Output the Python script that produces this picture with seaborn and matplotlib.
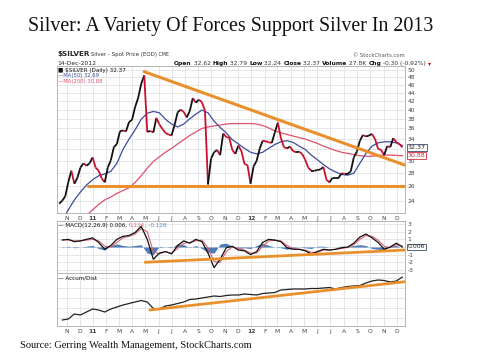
import numpy as np
import pandas as pd
import matplotlib
matplotlib.use('Agg')
import matplotlib.pyplot as plt
import matplotlib.ticker as mticker
import seaborn as sns

# ---- data --------------------------------------------------------------
# weekly closes (Fridays) from 15-Oct-2010 to 14-Dec-2012
close = [23.6, 24.0, 24.6, 26.6, 28.4, 26.4, 27.3, 28.9, 29.6, 29.2, 29.6, 30.6,
         28.9, 28.4, 27.2, 26.6, 28.9, 30.1, 32.4, 33.0, 35.4, 35.6, 35.4, 37.3,
         37.8, 40.6, 42.7, 46.2, 48.5, 35.3, 35.5, 35.2, 38.2, 36.8, 35.9, 35.1,
         34.8, 34.6, 36.7, 39.4, 40.0, 39.5, 38.3, 39.7, 42.7, 41.6, 42.3, 41.7,
         39.8, 26.3, 30.4, 31.5, 31.9, 31.0, 35.0, 34.3, 34.2, 31.9, 31.2, 32.7,
         31.7, 29.5, 29.3, 26.4,
         29.1, 30.0, 32.1, 33.6, 33.5, 33.3, 33.2, 35.2, 37.2, 34.1, 32.4, 32.2,
         32.5, 31.7, 31.5, 31.6, 31.2, 30.2, 28.9, 28.4, 28.4, 28.5, 28.6, 29.0,
         27.0, 26.6, 27.3, 27.3, 27.3, 28.0, 27.9, 27.9, 28.3, 30.6, 31.6, 33.6,
         34.7, 34.4, 34.6, 34.9, 33.9, 32.1, 31.9, 31.0, 32.6, 32.4, 34.1, 33.3,
         33.0, 32.37]

# every other Friday from 22-Oct-2010 to 14-Dec-2012
ma50 = [21.5, 22.8, 24.1, 25.2, 26.2, 27.0, 27.6, 27.9, 28.3, 29.6, 32.0, 33.9,
        35.7, 37.9, 39.2, 39.6, 39.3, 37.9, 36.9, 36.3, 36.9, 38.0, 39.0, 39.9,
        39.3, 37.5, 36.2, 35.1, 33.8, 33.0, 32.2, 31.5, 31.2, 31.5, 32.2, 32.9,
        33.4, 33.6, 33.3, 32.6, 32.0, 31.0, 30.2, 29.4, 28.7, 28.2, 27.8, 27.7,
        28.0, 29.6, 31.3, 32.6, 33.2, 33.4, 33.4, 33.2, 32.69]
ma200 = [20.0, 20.4, 20.9, 21.5, 22.1, 22.8, 23.5, 24.1, 24.5, 25.0, 25.4, 25.8,
         26.6, 27.6, 28.8, 29.9, 30.7, 31.5, 32.2, 33.0, 33.8, 34.6, 35.3, 36.0,
         36.3, 36.5, 36.7, 36.9, 37.0, 37.0, 37.0, 37.0, 36.9, 36.6, 36.1, 35.5,
         35.1, 34.8, 34.5, 34.2, 33.9, 33.5, 33.1, 32.6, 32.2, 31.8, 31.5, 31.3,
         31.1, 30.9, 30.8, 30.8, 30.9, 31.0, 31.0, 30.95, 30.88]
macd = [0.9, 1.0, 0.7, 0.8, 1.0, 1.2, 0.6, -0.3, 0.2, 1.0, 1.4, 1.5,
        1.9, 2.7, 1.0, -1.6, -0.8, -0.6, -0.9, 0.2, 0.8, 0.5, 1.0, 0.7,
        -0.8, -2.7, -1.6, -0.1, 0.1, -0.4, -0.5, -1.0, -0.6, 0.6, 1.0, 0.9,
        0.7, -0.1, -0.3, -0.3, -0.5, -0.9, -0.6, -0.3, -0.4, -0.3, -0.1, 0.0,
        0.5, 1.3, 1.7, 1.2, 0.6, -0.3, 0.0, 0.5, 0.006]
signal = [1.0, 0.9, 0.8, 0.8, 0.9, 1.0, 0.8, 0.1, 0.0, 0.6, 1.2, 1.4,
          1.7, 2.4, 2.0, -0.6, -0.9, -0.6, -0.8, -0.2, 0.5, 0.6, 0.8, 0.9,
          -0.1, -1.9, -2.0, -0.6, 0.0, -0.2, -0.4, -0.8, -0.8, 0.1, 0.8, 0.9,
          0.8, 0.2, -0.2, -0.3, -0.4, -0.7, -0.7, -0.4, -0.4, -0.3, -0.2, -0.05,
          0.3, 1.0, 1.5, 1.4, 0.9, 0.1, -0.1, 0.3, 0.134]
hist = [-0.1, 0.1, -0.1, 0.0, 0.1, 0.2, -0.2, -0.4, 0.2, 0.4, 0.2, 0.1,
        0.2, 0.3, -0.8, -1.0, 0.1, 0.0, -0.1, 0.4, 0.3, -0.1, 0.2, -0.2,
        -0.7, -0.8, 0.4, 0.5, 0.1, -0.2, -0.1, -0.2, 0.2, 0.5, 0.2, 0.0,
        -0.1, -0.3, -0.1, 0.0, -0.1, -0.2, 0.1, 0.1, 0.0, 0.0, 0.1, 0.05,
        0.2, 0.3, 0.2, -0.2, -0.3, -0.4, 0.1, 0.2, -0.128]
adl = [6, 7, 12, 11, 14, 17, 16, 14, 17, 19, 21, 22.5,
       24, 25.5, 24, 17.5, 17, 20, 21, 22.5, 24, 26.5, 27, 28,
       29, 30, 29.5, 30.5, 31, 31, 32, 31.5, 31, 32.5, 33, 33.5,
       36, 36.5, 37, 37, 37, 37.5, 37.5, 38, 38.5, 37, 38.5, 39.5,
       40, 40.5, 43, 45, 46, 45.5, 44, 45, 49]

# hand-drawn trendlines (start, end)
res_dates, res_vals = ['2011-04-29', '2012-12-20'], [49.5, 29.3]
sup_dates, sup_vals = ['2010-12-20', '2012-12-20'], [26.1, 26.1]
macd_tl_dates, macd_tl_vals = ['2011-05-01', '2012-12-20'], [-2.0, -0.4]
adl_tl_dates, adl_tl_vals = ['2011-05-12', '2012-12-20'], [16, 44.3]

month_labels = ['N', 'D', '11', 'F', 'M', 'A', 'M', 'J', 'J', 'A', 'S', 'O',
                'N', 'D', '12', 'F', 'M', 'A', 'M', 'J', 'J', 'A', 'S', 'O', 'N', 'D']
price_ticks = [24, 26, 28, 30, 34, 36, 38, 40, 42, 44, 46, 48, 50]
price_grid = [24, 26, 28, 30, 32, 34, 36, 38, 40, 42, 44, 46, 48, 50]

week_dates = pd.date_range('2010-10-15', periods=len(close), freq='7D')
ind_dates = pd.date_range('2010-10-22', periods=len(macd), freq='14D')
month_starts = pd.date_range('2010-11-01', periods=len(month_labels), freq='MS')

# ---- style ---------------------------------------------------------------
sns.set_style('white')
plt.rcParams['font.family'] = ['DejaVu Sans']

ORANGE = '#e8912c'
GRID = '#e2e2e2'
EDGE = '#aaaaaa'
BLUE = '#3c4c9e'
RED = '#e0506a'

fig = plt.figure(figsize=(4.8, 3.6), dpi=100)


def box(l, t, r, b):
    return [l / 480, 1 - b / 360, (r - l) / 480, (b - t) / 360]


def ftext(x, y, s, **kw):
    kw.setdefault('va', 'center')
    return fig.text(x / 480, 1 - y / 360, s, **kw)


def after(ax, prev, s, **kw):
    # place a text piece right after the previous one
    return ax.annotate(s, xy=(1, 0), xycoords=prev, va='bottom',
                       annotation_clip=False, **kw)


ax1 = fig.add_axes(box(57, 66, 405, 213))
ax2 = fig.add_axes(box(57, 221, 405, 273))
ax3 = fig.add_axes(box(57, 273, 405, 326))
xlim = (pd.Timestamp('2010-10-10'), pd.Timestamp('2012-12-20'))

for ax in (ax1, ax2, ax3):
    ax.set_xlim(*xlim)
    ax.set_xticks(month_starts)
    ax.set_xticklabels(month_labels)
    ax.grid(True, color=GRID, lw=0.6)
    ax.set_axisbelow(True)
    ax.yaxis.tick_right()
    ax.tick_params(length=0, labelsize=4.3, colors='#444444', pad=2)
    for sp in ax.spines.values():
        sp.set_color(EDGE)
        sp.set_linewidth(0.6)
    for lab in ax.get_xticklabels():
        if lab.get_text() in ('11', '12'):
            lab.set_fontweight('bold')
ax2.tick_params(labelbottom=False)

# ---- price panel -----------------------------------------------------------
ax1.set_yscale('log')
ax1.set_ylim(22.4, 51.1)
ax1.set_yticks(price_grid)
ax1.yaxis.set_major_formatter(mticker.FuncFormatter(
    lambda v, p: '' if round(v) not in price_ticks else f'{v:.0f}'))
ax1.yaxis.set_minor_locator(mticker.NullLocator())

sns.lineplot(x=ind_dates, y=ma200, ax=ax1, color=RED, lw=0.9)
sns.lineplot(x=ind_dates, y=ma50, ax=ax1, color=BLUE, lw=0.9)
for i in range(len(close) - 1):
    c = '#111111' if close[i + 1] >= close[i] else '#c8102e'
    ax1.plot(week_dates[i:i + 2], close[i:i + 2], color=c, lw=1.3,
             solid_capstyle='butt')
ax1.plot(pd.to_datetime(res_dates), res_vals, color=ORANGE, lw=2.2)
ax1.plot(pd.to_datetime(sup_dates), sup_vals, color=ORANGE, lw=2.2)
ax1.set_xlabel('')

ax1.annotate('32.37', xy=(1.008, 32.37), xycoords=('axes fraction', 'data'),
             va='center', ha='left', fontsize=4.5, color='#222222',
             bbox=dict(boxstyle='square,pad=0.15', fc='white', ec='#3a4a70', lw=0.6),
             annotation_clip=False)
ax1.annotate('30.88', xy=(1.008, 30.88), xycoords=('axes fraction', 'data'),
             va='center', ha='left', fontsize=4.5, color='#d03040',
             bbox=dict(boxstyle='square,pad=0.15', fc='white', ec='#d03040', lw=0.6),
             annotation_clip=False)

# ---- MACD panel ------------------------------------------------------------
ax2.set_ylim(-3.4, 3.4)
ax2.set_yticks([-3, -2, -1, 0, 1, 2, 3])
ax2.set_yticklabels(['-3', '-2', '-1', '', '1', '2', '3'])
ax2.fill_between(ind_dates, 0, hist, color='#3a6fb0', alpha=0.9, lw=0)
sns.lineplot(x=ind_dates, y=signal, ax=ax2, color='#e06070', lw=0.8)
sns.lineplot(x=ind_dates, y=macd, ax=ax2, color='#111111', lw=0.9)
ax2.plot(pd.to_datetime(macd_tl_dates), macd_tl_vals, color=ORANGE, lw=2.0)
ax2.set_xlabel('')
ax2.annotate('0.006', xy=(1.008, 0.006), xycoords=('axes fraction', 'data'),
             va='center', ha='left', fontsize=4.5, color='#222222',
             bbox=dict(boxstyle='square,pad=0.15', fc='white', ec='#3a4a70', lw=0.6),
             annotation_clip=False)

# ---- Accum/Dist panel ------------------------------------------------------
ax3.set_ylim(0, 53)
ax3.set_yticks([8, 18, 28, 38, 48])
ax3.set_yticklabels([])
sns.lineplot(x=ind_dates, y=adl, ax=ax3, color='#222222', lw=0.9)
ax3.plot(pd.to_datetime(adl_tl_dates), adl_tl_vals, color=ORANGE, lw=2.0)
ax3.set_xlabel('')

# ---- texts -----------------------------------------------------------------
ftext(28, 30.5, 'Silver: A Variety Of Forces Support Silver In 2013',
      family='Liberation Serif', fontsize=14.4, va='baseline', color='#111111')
ftext(20, 347.5, 'Source: Gerring Wealth Management, StockCharts.com',
      family='Liberation Serif', fontsize=7.5, va='baseline', color='#111111')

t = ftext(57, 56, '$SILVER', fontsize=5.2, fontweight='bold', va='baseline')
t = after(ax1, t, ' Silver - Spot Price (EOD)', fontsize=4.0, color='#333333')
after(ax1, t, ' CME', fontsize=3.4, color='#333333')
ftext(405, 55.5, '\u00a9 StockCharts.com', fontsize=3.8, ha='right', color='#555555')
ftext(57, 63.5, '14-Dec-2012', fontsize=4.3, color='#222222')

parts = [(' 32.62 ', False), ('High', True), (' 32.79 ', False),
         ('Low', True), (' 32.24 ', False), ('Close', True), (' 32.37 ', False),
         ('Volume', True), (' 27.8K ', False), ('Chg', True), (' -0.30 (-0.92%) ', False)]
prev = ftext(174, 63.5, 'Open', fontsize=4.3, fontweight='bold', color='#111111')
for s, b in parts:
    prev = after(ax1, prev, s, fontsize=4.3, fontweight='bold' if b else 'normal',
                 color='#111111' if b else '#333333')
after(ax1, prev, '\u25be', fontsize=4.3, color='#cc0000')

ftext(58, 70.5, '\u25a0 $SILVER (Daily) 32.37', fontsize=4.1, color='#111111')
ftext(58, 75.8, '\u2014MA(50) 32.69', fontsize=3.8, color=BLUE)
ftext(58, 81.0, '\u2014MA(200) 30.88', fontsize=3.8, color=RED)

m = ftext(58, 225.5, '\u2014 MACD(12,26,9) 0.006, ', fontsize=4.1, color='#111111')
m = after(ax2, m, '0.134', fontsize=4.1, color='#e06070')
after(ax2, m, ', -0.128', fontsize=4.1, color='#5a8ac0')
ftext(58, 277.5, '\u2014 Accum/Dist', fontsize=4.1, color='#111111')

fig.savefig('out.png', dpi=100)
